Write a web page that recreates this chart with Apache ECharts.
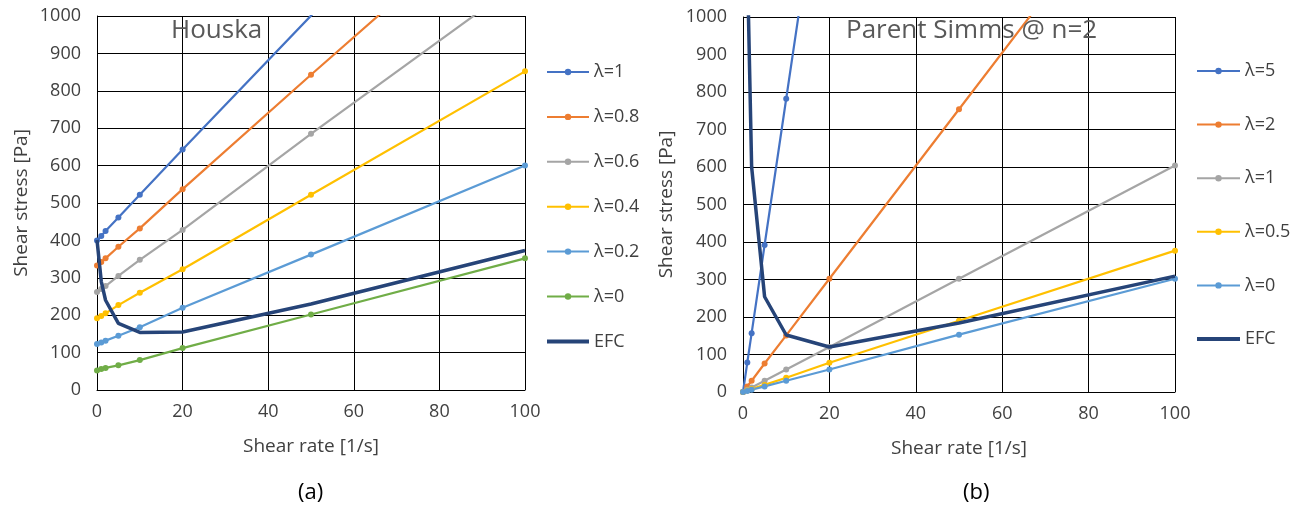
<!DOCTYPE html>
<html>
<head>
<meta charset="utf-8">
<script src="https://cdn.jsdelivr.net/npm/echarts@6/dist/echarts.min.js"></script>
<style>
  html, body { margin: 0; padding: 0; background: #fff; }
  #myChart { width: 1297px; height: 511px; }
</style>
</head>
<body>
<div id="myChart"></div>
<script>
  // shear rates shared by the lambda curves
  var rateX = [0, 1, 2, 5, 10, 20, 50, 100];

  // (a) Houska
  var houskaNames = ['λ=1', 'λ=0.8', 'λ=0.6', 'λ=0.4', 'λ=0.2', 'λ=0'];
  var houskaL1 = [400, 412, 425, 461, 522, 643, 1001, 1600];
  var houskaL08 = [333, 342, 352, 383, 432, 537, 843, 1345];
  var houskaL06 = [262, 270, 278, 305, 348, 428, 685, 1100];
  var houskaL04 = [192, 198, 205, 227, 260, 323, 522, 852];
  var houskaL02 = [123, 127, 132, 145, 168, 220, 362, 600];
  var houskaL0 = [52, 56, 59, 66, 80, 112, 202, 352];
  var houskaEfcX = [0, 1, 2, 5, 10, 20, 50, 100];
  var houskaEfc = [401, 290, 240, 178, 154, 155, 230, 373];

  // (b) Parent Simms @ n=2
  var simmsNames = ['λ=5', 'λ=2', 'λ=1', 'λ=0.5', 'λ=0'];
  var simmsL5 = [0, 79, 157, 392, 782, 1560, 3900, 7800];
  var simmsL2 = [0, 15, 30, 76, 151, 302, 754, 1508];
  var simmsL1 = [0, 6, 12, 30, 60, 120, 302, 604];
  var simmsL05 = [0, 4, 8, 19, 38, 78, 190, 377];
  var simmsL0 = [0, 3, 6, 15, 30, 60, 153, 302];
  var simmsEfcX = [1, 2, 5, 10, 20, 50, 100];
  var simmsEfc = [1150, 600, 254, 152, 120, 184, 309];

  var xTicks = [0, 20, 40, 60, 80, 100];
  var yTicks = [0, 100, 200, 300, 400, 500, 600, 700, 800, 900, 1000];

  var colors = ['#4472C4', '#ED7D31', '#A5A5A5', '#FFC000', '#5B9BD5', '#70AD47'];
  var efcColor = '#264478';
  var font = '"Open Sans", "Noto Sans", sans-serif';
  var textColor = '#404040';

  function pairs(xs, ys) {
    return xs.map(function (x, i) { return [x, ys[i]]; });
  }

  function xAxisCfg(idx) {
    return {
      type: 'value', gridIndex: idx, min: xTicks[0], max: xTicks[xTicks.length - 1], interval: 20,
      name: 'Shear rate [1/s]', nameLocation: 'middle', nameGap: 47,
      nameTextStyle: { fontFamily: font, fontSize: 19, color: textColor },
      axisLine: { show: true, lineStyle: { color: '#000', width: 1 } },
      axisTick: { show: false },
      axisLabel: { margin: 13, fontFamily: font, fontSize: 18, color: textColor, formatter: function (v) { return String(v); } },
      splitLine: { show: true, lineStyle: { color: '#000', width: 1 } }
    };
  }

  function yAxisCfg(idx, gap) {
    return {
      type: 'value', gridIndex: idx, min: yTicks[0], max: yTicks[yTicks.length - 1], interval: 100,
      name: 'Shear stress [Pa]', nameLocation: 'middle', nameGap: gap,
      nameTextStyle: { fontFamily: font, fontSize: 19, color: textColor },
      axisLine: { show: true, lineStyle: { color: '#000', width: 1 } },
      axisTick: { show: false },
      axisLabel: { margin: 16, fontFamily: font, fontSize: 18, color: textColor, formatter: function (v) { return String(v); } },
      splitLine: { show: true, lineStyle: { color: '#000', width: 1 } }
    };
  }

  function lamSeries(name, ys, color, idx) {
    return {
      name: name, type: 'line', xAxisIndex: idx, yAxisIndex: idx,
      data: pairs(rateX, ys),
      symbol: 'circle', symbolSize: 6,
      lineStyle: { color: color, width: 2.2 },
      itemStyle: { color: color },
      clip: true, z: 3
    };
  }

  function efcSeries(name, xs, ys, idx) {
    return {
      name: name, type: 'line', xAxisIndex: idx, yAxisIndex: idx,
      data: pairs(xs, ys),
      symbol: 'none',
      lineStyle: { color: efcColor, width: 3.5 },
      itemStyle: { color: efcColor },
      clip: true, z: 4
    };
  }

  // right-hand series get a trailing space so legend names don't clash with the left chart
  var simmsKeys = simmsNames.map(function (n) { return n + ' '; });

  var houskaData = [houskaL1, houskaL08, houskaL06, houskaL04, houskaL02, houskaL0];
  var simmsData = [simmsL5, simmsL2, simmsL1, simmsL05, simmsL0];
  var series = [];
  houskaData.forEach(function (ys, i) { series.push(lamSeries(houskaNames[i], ys, colors[i], 0)); });
  series.push(efcSeries('EFC', houskaEfcX, houskaEfc, 0));
  simmsData.forEach(function (ys, i) { series.push(lamSeries(simmsKeys[i], ys, colors[i], 1)); });
  series.push(efcSeries('EFC ', simmsEfcX, simmsEfc, 1));

  var legendText = { fontFamily: font, fontSize: 18, color: textColor, lineHeight: 16 };
  // EFC legend entry: plain thick line, no marker
  function efcLegend(name) {
    return { name: name, itemStyle: { opacity: 0 }, lineStyle: { width: 4 } };
  }

  var myChart = echarts.init(document.getElementById('myChart'));
  var option = {
    animation: false,
    backgroundColor: '#fff',
    title: [
      { text: 'Houska', left: 166, top: 13, textStyle: { fontFamily: font, fontSize: 26, fontWeight: 'normal', color: '#595959' } },
      { text: 'Parent Simms @ n=2', left: 841, top: 13, textStyle: { fontFamily: font, fontSize: 26, fontWeight: 'normal', color: '#595959' } },
      { text: '(a)', left: 293, top: 477, textStyle: { fontFamily: font, fontSize: 22, fontWeight: 'normal', color: '#000' } },
      { text: '(b)', left: 958, top: 477, textStyle: { fontFamily: font, fontSize: 22, fontWeight: 'normal', color: '#000' } }
    ],
    grid: [
      { left: 97, top: 16, width: 428, height: 374 },
      { left: 743, top: 17, width: 432, height: 375 }
    ],
    legend: [
      {
        data: houskaNames.concat([efcLegend('EFC')]),
        orient: 'vertical', left: 540, top: 58,
        itemWidth: 42, itemHeight: 8, itemGap: 26.9,
        textStyle: legendText
      },
      {
        data: simmsKeys.concat([efcLegend('EFC ')]),
        formatter: function (name) { return name.trim(); },
        orient: 'vertical', left: 1190, top: 57,
        itemWidth: 43, itemHeight: 8, itemGap: 35.6,
        textStyle: legendText
      }
    ],
    xAxis: [xAxisCfg(0), xAxisCfg(1)],
    yAxis: [yAxisCfg(0, 66), yAxisCfg(1, 67)],
    series: series
  };
  myChart.setOption(option);
</script>
</body>
</html>
